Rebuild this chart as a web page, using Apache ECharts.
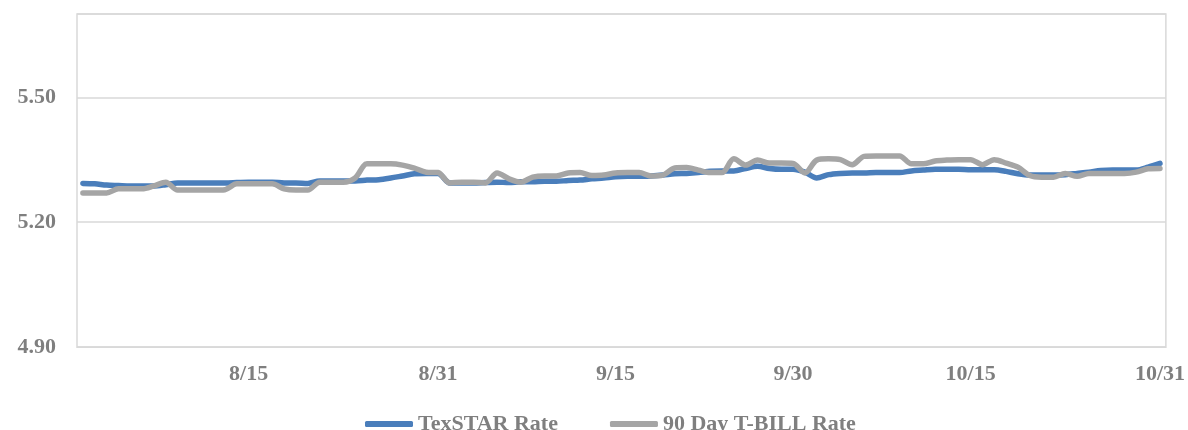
<!DOCTYPE html>
<html>
<head>
<meta charset="utf-8">
<script src="https://cdn.jsdelivr.net/npm/echarts@6/dist/echarts.min.js"></script>
<style>
  html, body { margin: 0; padding: 0; background: #fff; }
  #chart { width: 1188px; height: 430px; }
</style>
</head>
<body>
<div id="chart"></div>
<script>
// daily dates 8/1 - 10/31
var months = [[8, 31], [9, 30], [10, 31]];
var dates = [];
months.forEach(function (m) {
    for (var d = 1; d <= m[1]; d++) dates.push(m[0] + '/' + d);
});

var tickLabels = ['8/15', '8/31', '9/15', '9/30', '10/15', '10/31'];

var texstarRate = [
    5.293, 5.292, 5.289, 5.288, 5.287, 5.287, 5.287, 5.290, 5.294, 5.294,
    5.294, 5.294, 5.294, 5.295, 5.296, 5.296, 5.296, 5.294, 5.294, 5.293,
    5.299, 5.299, 5.299, 5.299, 5.301, 5.302, 5.306, 5.311, 5.316, 5.317,
    5.317, 5.294, 5.294, 5.294, 5.295, 5.296, 5.295, 5.297, 5.297, 5.298,
    5.298, 5.300, 5.301, 5.304, 5.306, 5.309, 5.310, 5.310, 5.311, 5.313,
    5.316, 5.317, 5.319, 5.322, 5.323, 5.323, 5.329, 5.334, 5.329, 5.327,
    5.327, 5.320, 5.306, 5.314, 5.317, 5.318, 5.318, 5.319, 5.319, 5.319,
    5.323, 5.325, 5.327, 5.327, 5.327, 5.326, 5.326, 5.326, 5.322, 5.316,
    5.313, 5.313, 5.313, 5.314, 5.317, 5.320, 5.324, 5.325, 5.325, 5.325,
    5.332, 5.341
];

var tbillRate = [
    5.270, 5.270, 5.270, 5.280, 5.280, 5.280, 5.287, 5.296, 5.277, 5.277,
    5.277, 5.277, 5.278, 5.292, 5.292, 5.292, 5.292, 5.280, 5.277, 5.277,
    5.296, 5.296, 5.296, 5.306, 5.340, 5.340, 5.340, 5.337, 5.330, 5.320,
    5.319, 5.294, 5.296, 5.296, 5.294, 5.318, 5.304, 5.296, 5.308, 5.311,
    5.311, 5.318, 5.319, 5.312, 5.313, 5.318, 5.319, 5.319, 5.311, 5.313,
    5.330, 5.331, 5.325, 5.319, 5.319, 5.352, 5.337, 5.349, 5.342, 5.342,
    5.341, 5.318, 5.349, 5.352, 5.350, 5.338, 5.358, 5.359, 5.359, 5.359,
    5.340, 5.340, 5.347, 5.349, 5.350, 5.350, 5.338, 5.350, 5.342, 5.332,
    5.312, 5.308, 5.308, 5.317, 5.310, 5.317, 5.317, 5.317, 5.317, 5.320,
    5.328, 5.329
];

var chart = echarts.init(document.getElementById('chart'));
var font = '"Liberation Serif", serif';

var option = {
    animation: false,
    grid: {
        left: 77,
        right: 20,
        top: 14,
        bottom: 83,
        show: true,
        borderColor: '#D9D9D9',
        borderWidth: 1.5
    },
    legend: {
        left: 360,
        top: 408,
        itemWidth: 48,
        itemHeight: 6,
        itemGap: 52,
        icon: 'roundRect',
        textStyle: { color: '#7F7F7F', fontFamily: font, fontWeight: 'bold', fontSize: 22 },
        data: ['TexSTAR Rate', '90 Day T-BILL Rate']
    },
    xAxis: {
        type: 'category',
        data: dates,
        boundaryGap: true,
        axisLine: { lineStyle: { color: '#D9D9D9' } },
        axisTick: { show: false },
        axisLabel: {
            color: '#7F7F7F',
            fontFamily: font,
            fontWeight: 'bold',
            fontSize: 22,
            margin: 16,
            interval: function (i, v) { return tickLabels.indexOf(v) >= 0; }
        }
    },
    yAxis: {
        type: 'value',
        min: 4.9,
        max: 5.7,
        interval: 0.3,
        axisLine: { show: false },
        axisTick: { show: false },
        splitLine: { lineStyle: { color: '#D9D9D9', width: 1.5 } },
        axisLabel: {
            color: '#7F7F7F',
            fontFamily: font,
            fontWeight: 'bold',
            fontSize: 22,
            margin: 21,
            showMaxLabel: false,
            formatter: function (v) { return v.toFixed(2); }
        }
    },
    series: [
        {
            name: 'TexSTAR Rate',
            type: 'line',
            data: texstarRate,
            smooth: 0.3,
            showSymbol: false,
            color: '#4A7EBB',
            lineStyle: { width: 5.5, cap: 'round', join: 'round' }
        },
        {
            name: '90 Day T-BILL Rate',
            type: 'line',
            data: tbillRate,
            smooth: 0.3,
            showSymbol: false,
            color: '#A5A5A5',
            lineStyle: { width: 5.5, cap: 'round', join: 'round' }
        }
    ]
};
chart.setOption(option);
</script>
</body>
</html>
